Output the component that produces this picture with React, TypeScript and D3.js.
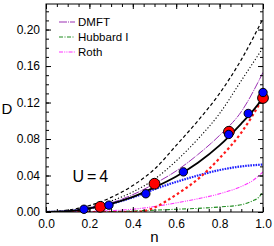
import { useEffect, useRef } from "react";
import * as d3 from "d3";

// filling n on the x axis, double occupancy D on the y axis
const gridN = [0, 0.1, 0.2, 0.3, 0.4, 0.5, 0.6, 0.7, 0.8, 0.9, 1.0];
const dashedD = [0, 0.002, 0.007, 0.016, 0.029, 0.047, 0.073, 0.1, 0.13, 0.167, 0.212];
const dottedD = [0, 0.001, 0.005, 0.012, 0.022, 0.036, 0.056, 0.08, 0.108, 0.144, 0.18];
const dmftD = [0, 0.001, 0.0045, 0.01, 0.019, 0.031, 0.045, 0.063, 0.084, 0.11, 0.153];
const blueLineD = [0, 0.0008, 0.004, 0.009, 0.016, 0.025, 0.033, 0.04, 0.046, 0.05, 0.052];

const solidN = [0, 0.1, 0.2, 0.3, 0.4, 0.5, 0.6, 0.7, 0.8, 0.9, 0.95, 1.0];
const solidD = [0, 0.0008, 0.004, 0.009, 0.0165, 0.027, 0.039, 0.054, 0.073, 0.097, 0.11, 0.125];

const redLineN = [0, 0.2, 0.4, 0.45, 0.5, 0.6, 0.7, 0.8, 0.9, 1.0];
const redLineD = [0, 0, 0, 0.001, 0.005, 0.019, 0.036, 0.059, 0.087, 0.125];

const rothN = [0, 0.2, 0.3, 0.4, 0.5, 0.6, 0.7, 0.8, 0.9, 0.95, 1.0];
const rothD = [0, 0.0005, 0.0015, 0.003, 0.006, 0.01, 0.0145, 0.02, 0.028, 0.034, 0.044];

const hubbardN = [0, 0.3, 0.5, 0.6, 0.7, 0.8, 0.9, 0.95, 0.98, 1.0];
const hubbardD = [0, 0.0005, 0.002, 0.003, 0.004, 0.0055, 0.008, 0.012, 0.016, 0.022];

// symbols
const redN = [0.25, 0.5, 0.843, 1.0];
const redD = [0.0057, 0.031, 0.088, 0.125];
const blueN = [0.175, 0.29, 0.46, 0.633, 0.842, 0.932, 1.0];
const blueD = [0.003, 0.0075, 0.02, 0.044, 0.085, 0.108, 0.131];

const xTicks = [0, 0.2, 0.4, 0.6, 0.8, 1.0];
const yTicks = [0, 0.04, 0.08, 0.12, 0.16, 0.2];

const legendNames = ["DMFT", "Hubbard I", "Roth"];

const FONT = "'Liberation Sans', Arial, sans-serif";

type Curve = { n: number[]; d: number[]; color: string; width: number; dash: string | null };

export default function App() {
  const svgRef = useRef<SVGSVGElement | null>(null);

  useEffect(() => {
    if (!svgRef.current) return;
    const width = 274;
    const height = 246;
    const left = 46;
    const right = 263;
    const top = 4;
    const bottom = 212;

    const svg = d3.select(svgRef.current);
    svg.selectAll("*").remove();
    svg.attr("viewBox", `0 0 ${width} ${height}`);

    const x = d3.scaleLinear().domain([0, 1]).range([left, right]);
    const y = d3.scaleLinear().domain([0, 0.228]).range([bottom, top]);

    svg.append("rect").attr("width", width).attr("height", height).attr("fill", "#fff");

    svg
      .append("clipPath")
      .attr("id", "plot-clip")
      .append("rect")
      .attr("x", left)
      .attr("y", top)
      .attr("width", right - left)
      .attr("height", bottom - top);

    const curves: Curve[] = [
      { n: gridN, d: dashedD, color: "#000", width: 1.2, dash: "3.5,2.5" },
      { n: gridN, d: dottedD, color: "#000", width: 1.1, dash: "1.2,2" },
      { n: gridN, d: dmftD, color: "#9b30b4", width: 1, dash: "8,1,1,1" },
      { n: hubbardN, d: hubbardD, color: "#1e8c1e", width: 1.1, dash: "4,1.5,1,1.5" },
      { n: rothN, d: rothD, color: "#ff30ff", width: 1.1, dash: "4,1.2,1,1.2,1,1.2" },
      { n: gridN, d: blueLineD, color: "#1c1cff", width: 2.2, dash: "1.6,1" },
      { n: redLineN, d: redLineD, color: "#ff1a1a", width: 2.2, dash: "2.6,2.6" },
      { n: solidN, d: solidD, color: "#000", width: 1.8, dash: null },
    ];

    const line = d3
      .line<[number, number]>()
      .x((p) => x(p[0]))
      .y((p) => y(p[1]))
      .curve(d3.curveMonotoneX);

    const lines = svg.append("g").attr("clip-path", "url(#plot-clip)");
    curves.forEach((c) => {
      const pts = c.n.map((v, i) => [v, c.d[i]] as [number, number]);
      lines
        .append("path")
        .attr("d", line(pts))
        .attr("fill", "none")
        .attr("stroke", c.color)
        .attr("stroke-width", c.width)
        .attr("stroke-dasharray", c.dash);
    });

    // frame and ticks (pointing inward on all four sides)
    svg
      .append("rect")
      .attr("x", left)
      .attr("y", top)
      .attr("width", right - left)
      .attr("height", bottom - top)
      .attr("fill", "none")
      .attr("stroke", "#000")
      .attr("stroke-width", 1);

    const xMinor = d3.range(0, 1.0001, 0.05);
    const yMinor = d3.range(0, 0.2281, 0.01);

    const styleAxis = (g: d3.Selection<SVGGElement, unknown, null, undefined>) => {
      g.select(".domain").remove();
      g.selectAll("line").attr("stroke", "#000").attr("stroke-width", 1);
      g.selectAll("text").attr("font-family", FONT).attr("font-size", 12).attr("fill", "#000");
    };

    svg
      .append("g")
      .attr("transform", `translate(0,${bottom})`)
      .call(d3.axisBottom(x).tickValues(xMinor).tickSize(-3).tickFormat(() => ""))
      .call(styleAxis);
    svg
      .append("g")
      .attr("transform", `translate(0,${bottom})`)
      .call(
        d3
          .axisBottom(x)
          .tickValues(xTicks)
          .tickSize(-5)
          .tickPadding(7.5)
          .tickFormat((v) => d3.format(".1f")(Number(v)))
      )
      .call(styleAxis);
    svg
      .append("g")
      .attr("transform", `translate(0,${top})`)
      .call(d3.axisTop(x).tickValues(xMinor).tickSize(-3).tickFormat(() => ""))
      .call(styleAxis);
    svg
      .append("g")
      .attr("transform", `translate(0,${top})`)
      .call(d3.axisTop(x).tickValues(xTicks).tickSize(-5).tickFormat(() => ""))
      .call(styleAxis);

    svg
      .append("g")
      .attr("transform", `translate(${left},0)`)
      .call(d3.axisLeft(y).tickValues(yMinor).tickSize(-3).tickFormat(() => ""))
      .call(styleAxis);
    svg
      .append("g")
      .attr("transform", `translate(${left},0)`)
      .call(
        d3
          .axisLeft(y)
          .tickValues(yTicks)
          .tickSize(-5)
          .tickPadding(6)
          .tickFormat((v) => d3.format(".2f")(Number(v)))
      )
      .call(styleAxis);
    svg
      .append("g")
      .attr("transform", `translate(${right},0)`)
      .call(d3.axisRight(y).tickValues(yMinor).tickSize(-3).tickFormat(() => ""))
      .call(styleAxis);
    svg
      .append("g")
      .attr("transform", `translate(${right},0)`)
      .call(d3.axisRight(y).tickValues(yTicks).tickSize(-5).tickFormat(() => ""))
      .call(styleAxis);

    // symbols
    const sym = svg.append("g").attr("stroke", "#000").attr("stroke-width", 1);
    redN.forEach((v, i) => {
      sym.append("circle").attr("cx", x(v)).attr("cy", y(redD[i])).attr("r", 5.4).attr("fill", "#ff0000");
    });
    blueN.forEach((v, i) => {
      sym.append("circle").attr("cx", x(v)).attr("cy", y(blueD[i])).attr("r", 4.2).attr("fill", "#0000ff");
    });

    // legend
    const legendStyles = curves.slice(2, 5);
    const leg = svg.append("g");
    legendNames.forEach((name, i) => {
      const ly = 22 + i * 15;
      const c = legendStyles[i];
      leg
        .append("line")
        .attr("x1", 59)
        .attr("x2", 75)
        .attr("y1", ly)
        .attr("y2", ly)
        .attr("stroke", c.color)
        .attr("stroke-width", 1.1)
        .attr("stroke-dasharray", c.dash);
      leg
        .append("text")
        .attr("x", 78)
        .attr("y", ly + 4.2)
        .attr("font-family", FONT)
        .attr("font-size", 11.5)
        .text(name);
    });

    // labels
    svg
      .append("text")
      .attr("x", 72.5)
      .attr("y", 182)
      .attr("font-family", FONT)
      .attr("font-size", 16)
      .attr("word-spacing", -1.5)
      .text("U = 4");
    svg
      .append("text")
      .attr("x", (left + right) / 2)
      .attr("y", 242)
      .attr("text-anchor", "middle")
      .attr("font-family", FONT)
      .attr("font-size", 15)
      .text("n");
    svg
      .append("text")
      .attr("x", 1.5)
      .attr("y", 114)
      .attr("font-family", FONT)
      .attr("font-size", 15)
      .text("D");
  }, []);

  return (
    <div style={{ position: "fixed", left: 0, top: 0 }}>
      <svg ref={svgRef} width={274} height={246} style={{ display: "block" }} />
    </div>
  );
}
